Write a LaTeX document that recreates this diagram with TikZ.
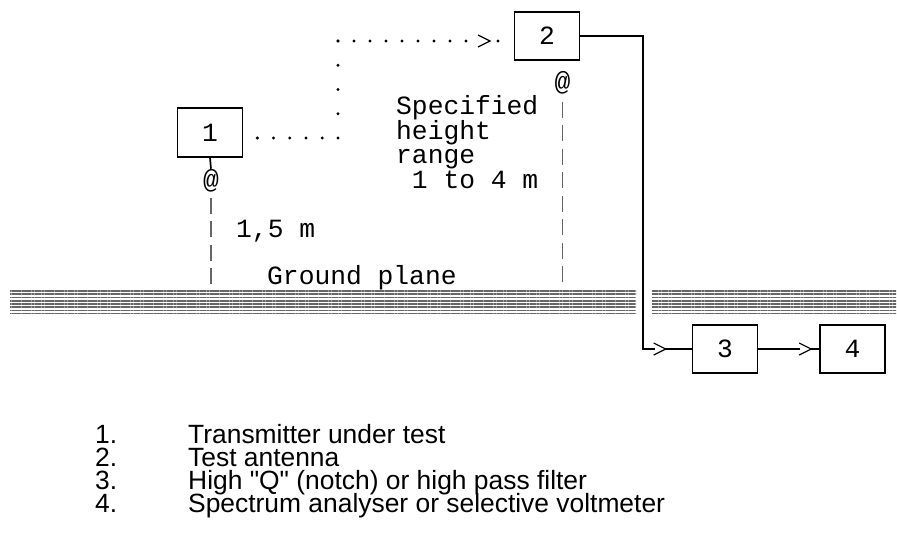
\documentclass[tikz,border=0pt]{standalone}
\usepackage{fontspec}
\setmainfont{Liberation Sans}
\newfontfamily\keyfont{Liberation Sans}[Ligatures=TeXOff]
\newfontfamily\asciifont{Liberation Mono}
\usepackage{tikz}
\usepackage{xcolor}
\definecolor{gndGray}{HTML}{676767}
\usetikzlibrary{decorations.markings,patterns.meta}
\setlength{\lineskiplimit}{-100pt}

\tikzset{
  ascii/.style={font=\asciifont\fontsize{26.3}{24.4}\selectfont, inner sep=0pt},
  unit/.style={draw, line width=1.7pt, ascii, minimum width=65pt, minimum height=48.5pt},
  wire/.style={line width=1.7pt, line join=miter},
  dashline/.style={draw=gray!80!black, line width=1.3pt, dash pattern=on 16pt off 7.5pt},
  dotrow/.style={line width=3.3pt, line cap=round, dash pattern=on 0pt off 16.2pt},
  dotcol/.style={line width=3.3pt, line cap=round, dash pattern=on 0pt off 24.25pt},
  ground/.style={inner sep=0pt, minimum height=25pt, pattern={Lines[angle=0,distance=3.3pt,line width=1.7pt]}, pattern color=gndGray},
  legend/.style={font=\keyfont\fontsize{26.4}{23}\selectfont, align=left, inner sep=0pt},
  gtmark/.style={postaction={decorate, decoration={markings, mark=at position #1 with {
    \fill[white] (-11,-2.5) rectangle (-1,2.5);
    \draw[solid, line width=1.2pt, line cap=butt, shorten >=0pt, shorten <=0pt] (-12,-6) -- (0,0) -- (-12,6);}}}}
}

\begin{document}
\begin{tikzpicture}[x=1pt, y=-1pt]
  \useasboundingbox (0,0) rectangle (897,535);
  % ground plane
  \node[ground, minimum width=626pt] (gndL) at (323,300.5) {};
  \node[ground, minimum width=244pt] (gndR) at (774,300.5) {};
  % units
  \node[unit] (box1) at (210,132.5) {1};
  \node[unit] (box2) at (547,36) {2};
  \node[unit] (box3) at (725,349) {3};
  \node[unit] (box4) at (852.5,349) {4};
  % antennas
  \node[ascii, anchor=base] (ant1) at (211,188) {@};
  \node[ascii, anchor=base] (ant2) at (562.5,91) {@};
  \draw[wire] (box1.south) -- (ant1.north);
  \draw[dashline, shorten <=6pt] (ant1.south) -- (ant1.south |- gndL.north);
  \draw[dashline, shorten <=7pt] (ant2.south) -- (ant2.south |- gndL.north);
  % radiated path
  \coordinate (c1) at (338,138);
  \coordinate (c2) at (338,41);
  \draw[dotrow, shorten <=14pt] (box1.east |- c1) -- (c1);
  \draw[dotcol] (c1) -- (c2);
  \draw[dotrow, dash pattern=on 0pt off 16pt on 0pt off 16pt on 0pt off 16pt on 0pt off 16pt on 0pt off 16pt on 0pt off 16pt on 0pt off 16pt on 0pt off 16pt on 0pt off 32pt on 0pt off 16pt,
    shorten >=11pt, gtmark=152pt] (c2) -- (c2 -| box2.west);
  % measuring chain
  \coordinate (turn) at (643,349);
  \draw[wire, gtmark=-26pt] (box2.east) -| (turn) -- (box3.west);
  \draw[wire, gtmark=-8pt] (box3.east) -- (box4.west);
  % labels
  \node[ascii, anchor=base west, align=left] (range) at (396,188) {Specified\\height\\range\\\hspace*{0.6em}1 to 4 m};
  \node[ascii, anchor=base west] (hgt) at (236,237) {1,5 m};
  \node[ascii, anchor=base west] (gndtext) at (267,284) {Ground plane};
  % key
  \node[legend, anchor=base west] (nums) at (95,512) {1.\\2.\\3.\\4.};
  \node[legend, anchor=base west] (items) at (188,512) {Transmitter under test\\Test antenna\\High "Q" (notch) or high pass filter\\Spectrum analyser or selective voltmeter};
\end{tikzpicture}
\end{document}
